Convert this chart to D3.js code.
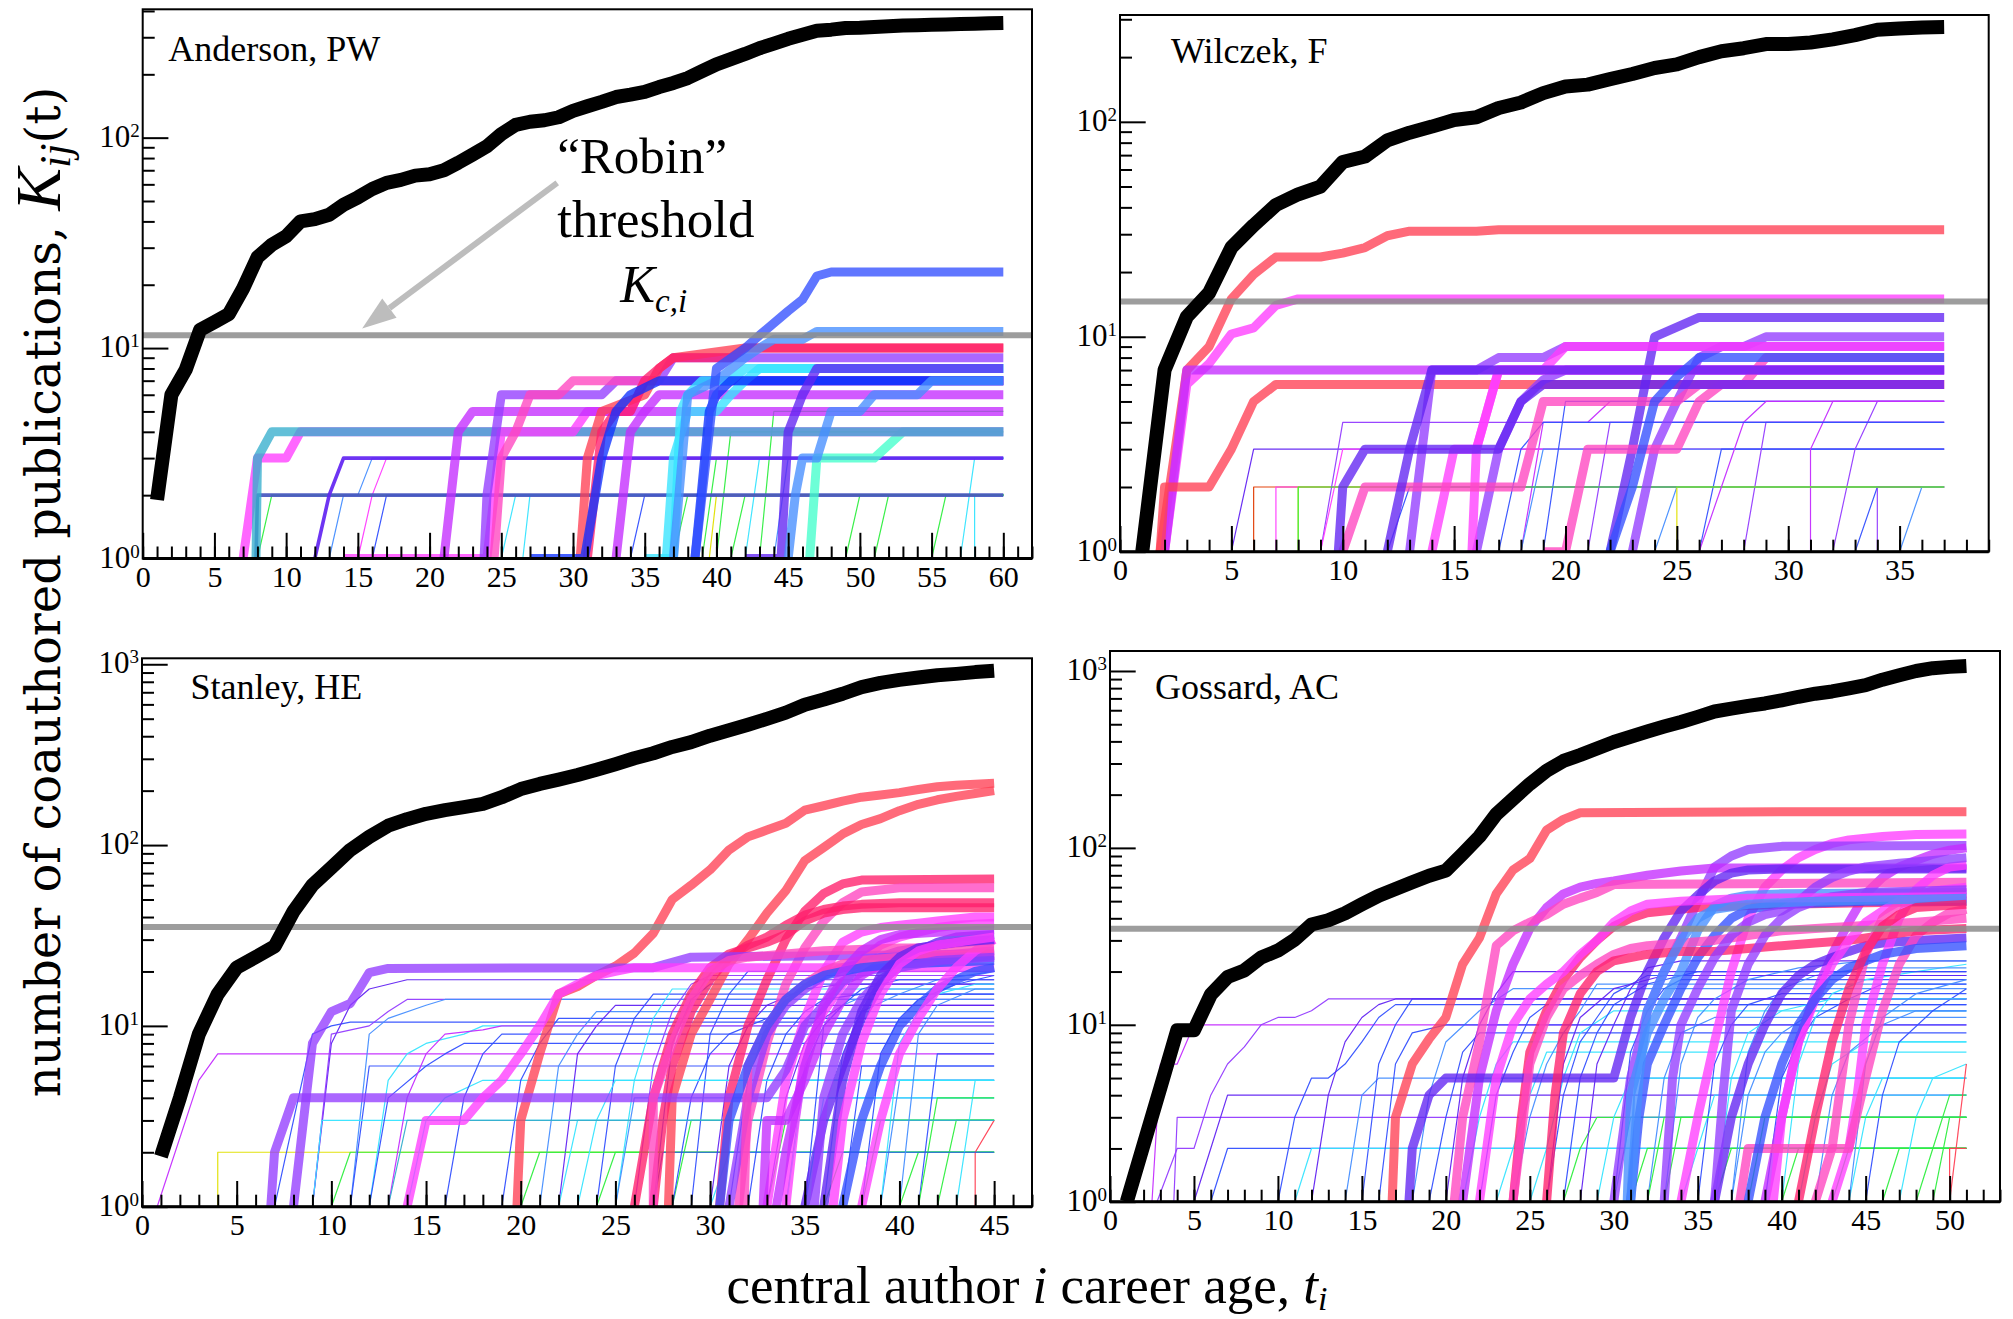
<!DOCTYPE html>
<html>
<head>
<meta charset="utf-8">
<script src="https://cdn.jsdelivr.net/npm/d3@7"></script>
<style>
  body { margin: 0; background: #fff; }
  svg { display: block; }
</style>
</head>
<body>
<svg id="chart" width="2013" height="1319"></svg>
<script>
// ---------- Data ----------
// Central author cumulative coauthored publications, one value per career year (t = 1, 2, ...)
const andersonCareer = [1.9, 6, 7.9, 12.2, 13.3, 14.5, 19.2, 27, 31, 34, 40, 41, 43, 48, 52, 57, 61, 63, 66, 67, 70, 76, 83, 91, 104, 115, 119, 121, 125, 134, 141, 148, 156, 160, 165, 174, 182, 192, 207, 223, 236, 250, 266, 280, 295, 308, 322, 326, 332, 333, 336, 338, 341, 342, 344, 345, 347, 348, 350, 351];
const wilczekCareer = [1, 7, 12.4, 16, 26, 33, 41, 46, 50, 65, 69, 82, 89, 95, 102, 105, 116, 123, 136, 146, 149, 158, 167, 178, 185, 200, 213, 220, 230, 230, 234, 242, 253, 268, 272, 275, 276];
const stanleyCareer = [1.9, 4, 9, 15, 21, 24, 27.5, 43, 60, 75, 94, 111, 128, 139, 149, 156, 162, 169, 184, 204, 218, 230, 244, 261, 280, 302, 322, 349, 371, 403, 431, 463, 499, 540, 597, 638, 687, 747, 789, 820, 845, 870, 885, 905, 920];
const gossardCareer = [1, 2.1, 4.4, 9.3, 9.3, 14.8, 18.6, 20.3, 24, 26.3, 30.3, 36.9, 39, 42.7, 48, 53.7, 58.5, 63.9, 69.6, 74.4, 92.5, 116, 155, 189, 230, 273, 310, 335, 365, 397, 425, 455, 485, 515, 550, 590, 612, 635, 655, 683, 715, 744, 766, 798, 832, 893, 946, 1000, 1037, 1055, 1067];

// "Robin" thresholds K_c,i
const thresholds = [11.5, 14.6, 35.2, 34.9];

// Panel titles
const authorNames = ['Anderson, PW', 'Wilczek, F', 'Stanley, HE', 'Gossard, AC'];

// Axis tick labels
const andersonXTicks = [0, 5, 10, 15, 20, 25, 30, 35, 40, 45, 50, 55, 60];
const wilczekXTicks = [0, 5, 10, 15, 20, 25, 30, 35];
const stanleyXTicks = [0, 5, 10, 15, 20, 25, 30, 35, 40, 45];
const gossardXTicks = [0, 5, 10, 15, 20, 25, 30, 35, 40, 45, 50];
const andersonYExponents = [0, 1, 2];
const wilczekYExponents = [0, 1, 2];
const stanleyYExponents = [0, 1, 2, 3];
const gossardYExponents = [0, 1, 2, 3];

// Coauthor trajectories K_ij(t): [group, tie strength, flat (t, K) pairs]
// Each count holds its last value through the end of the central author's record.
const andersonCoauthors = [
  ['g','W',[8,1, 9,2]], ['a','W',[13,1, 14,2, 15,2, 16,3]], ['m','W',[15,1, 16,2, 17,3]],
  ['b','W',[16,1, 17,2]], ['c','W',[25,1, 26,2]], ['c','W',[26.5,1, 27,2]],
  ['g','W',[37,1, 38,2]], ['g','W',[39,1, 40,3]], ['g','W',[40,1, 41,4]], ['g','W',[41,1, 42,2]],
  ['c','W',[42,1, 43,3]], ['g','W',[43,1, 44,5]], ['g','W',[51,1, 52,2]], ['g','W',[55,1, 56,2]],
  ['c','W',[57,1, 58,3]], ['c','W',[58,1, 58,2]], ['b','W',[34,1, 35,2]], ['y','W',[39.5,1, 40,2]],
  ['a','W',[44,1, 45,3]], ['g','W',[49,1, 50,2]],
  ['s','M',[7.9,1, 8,2]], ['i','M',[12,1, 13,2, 14,3]],
  ['q','S',[46.5,1, 47,3, 51,3, 53,4]],
  ['m','S',[7,1, 8,3, 10,3, 11,4]], ['t','S',[7.9,1, 8,3, 9,4]],
  ['m','S',[14,1, 24,1, 25,4, 30,4, 31,5, 34,5, 35,7]], ['f','S',[21,1, 22,4, 23,5]],
  ['v','S',[23.8,1, 24,2, 25,6, 32,6, 33,7, 36,7, 37,9]],
  ['p','S',[24.5,1, 25,3, 26,4, 27,6, 29,6, 30,7]],
  ['r','S',[30.5,1, 31,3, 32,5, 35,6, 36,8, 37,9, 42,10]],
  ['k','S',[31,1, 32,4, 33,5, 34,5, 35,7, 36,8, 37,9, 41,9, 42,10]],
  ['B','S',[27,1, 30.8,1, 32,3, 33,5, 34,6, 36,7]], ['f','S',[33,1, 33.5,2, 34,4, 35,5, 36,6]],
  ['c','S',[35,1, 37,1, 37.5,5, 38,6, 39,7, 41,7, 42,8]], ['c','S',[36.5,1, 37,3, 38,5, 40,5, 41,6, 42,7, 43,8]],
  ['B','S',[38.5,1, 39.5,5, 40,6, 41,7]],
  ['a','S',[37,1, 38,6, 40,7, 42,9, 43,10, 44,11, 46,11, 47,12]],
  ['b','S',[38.5,1, 40,8, 42,10, 43,11.5, 45,15, 46,17, 47,22, 48,23]],
  ['i','S',[42,1, 44.5,1, 45,4, 46,6, 47,8]],
  ['a','S',[45,1, 45.5,2, 46,3, 47,3, 48,5, 50,5, 51,6, 54,6, 55,7]]
];

const wilczekCoauthors = [
  ['i','W',[5,1, 6,3]], ['o','W',[6,1, 6,2]], ['m','W',[7,1, 7,2]], ['y','W',[8,1, 8,2]],
  ['v','W',[9,1, 10,4]], ['f','W',[18,1, 19,4, 21,4, 22,5]], ['m','W',[9,1, 10,3]],
  ['b','W',[12,1, 13,2]], ['a','W',[18,1, 19,3]], ['b','W',[19,1, 20,5]], ['v','W',[21,1, 22,4]],
  ['a','W',[24,1, 25,2]], ['b','W',[26,1, 27,3]], ['v','W',[28,1, 29,4]], ['f','W',[31,1, 31,3, 32,5]],
  ['v','W',[32,1, 33,3, 34,5]], ['b','W',[33,1, 34,2]], ['v','W',[34,1, 34,2]], ['a','W',[35,1, 36,2]],
  ['y','W',[25,1, 25,2]], ['g','W',[8,1, 8,2]], ['f','W',[26,1, 27,2, 28,4, 29,5]], ['b','W',[17,1, 18,3, 19,4]],
  ['r','S',[1.8,1, 3,7, 4,9, 5,15, 6,19.5, 7,23.5, 9,23.5, 10,24.5, 11,26, 12,29.5, 13,31, 16,31, 17,31.5]],
  ['m','S',[2,1, 3,6, 4,7.5, 5,10.3, 6,11, 7,14, 8,15]],
  ['f','S',[2,1, 3,7]],
  ['r','S',[1.8,1, 2,2, 4,2, 5,3, 6,5, 7,6]],
  ['v','S',[13,1, 14,7, 16,7, 17,8, 19,8, 20,9, 28,9, 29,10]],
  ['i','S',[22,1, 23,3, 24,10, 26,12.3]],
  ['v','S',[23,1, 24,3, 25,5, 26,8, 27,9]],
  ['v','S',[16,1, 17,3, 18,5, 19,6.3, 20,7]],
  ['p','S',[19,1, 20,1, 21,3, 25,3, 26,5, 27,6, 28,6, 29,8]],
  ['m','S',[15.8,1, 16,3, 17,7, 19,7, 20,9]],
  ['m','S',[14,1, 15,3, 16,3, 17,7]],
  ['p','S',[10,1, 11,2, 18,2, 19,5, 25,5, 26,6]],
  ['i','S',[9.8,1, 10,2, 11,3, 17,3, 18,5, 19,6]],
  ['i','S',[12,1, 13,3, 14,7]],
  ['b','S',[22,1, 23,2, 24,5, 25,6.5, 26,8]]
];

const stanleyCoauthors = [
  ['f','W',[0.8,1, 3,5, 4,7]], ['y','W',[4,1, 4,2]], ['g','W',[10,1, 11,2]],
  ['b','W',[7,1, 8,3, 9,9, 10,10, 11,10.5]], ['i','W',[9,1, 10,8, 11,13, 12,16, 14,18]],
  ['v','W',[9,1, 10,9, 12,10, 13,12, 14,14]], ['c','W',[12,1, 13,5, 14,7, 15,8, 17,9, 18,10]],
  ['a','W',[11,1, 12,9, 13,11, 15,13, 16,14]], ['b','W',[11,1, 12,6]], ['c','W',[9,1, 9.5,3]],
  ['b','W',[12,1, 13,4, 15,6, 16,7, 17,8]], ['c','W',[14,1, 15,3, 16,4, 18,5]],
  ['b','W',[16,1, 17,4, 18,7, 19,9]], ['b','W',[19,1, 20,5, 21,8, 22,11]],
  ['a','W',[21,1, 22,6, 23,9, 24,12]], ['i','W',[22,1, 23,7, 24,10, 25,13]],
  ['b','W',[24,1, 25,6, 26,11, 27,15]], ['c','W',[25,1, 26,5, 27,11, 28,16]],
  ['b','W',[27,1, 28,8, 29,14, 30,17]], ['v','W',[26,1, 27,6, 28,12, 29,17, 30,19]],
  ['b','W',[29,1, 30,9, 31,15, 32,20]], ['g','W',[20,1, 21,2]], ['c','W',[22,1, 23,3]],
  ['g','W',[24,1, 25,2]], ['a','W',[25,1, 26,4]], ['g','W',[28,1, 29,3]], ['c','W',[30,1, 31,2]],
  ['b','W',[31,1, 32,5]], ['g','W',[33,1, 34,3]], ['c','W',[35,1, 36,4]], ['g','W',[36,1, 37,2]],
  ['b','W',[37,1, 38,6]], ['g','W',[38,1, 39,3]], ['a','W',[39,1, 40,5]], ['g','W',[40,1, 41,2]],
  ['b','W',[41,1, 42,7]], ['g','W',[42,1, 43,3]], ['c','W',[43,1, 44,5]], ['r','W',[44,1, 44,2, 45,3]],
  ['g','W',[41,1, 42,4]], ['b','W',[32,1, 33,5, 34,9, 35,12, 36,14, 38,15]],
  ['a','W',[34,1, 35,6, 36,10, 37,13, 39,16]], ['i','W',[30,1, 31,6, 32,10, 33,13, 35,16, 37,17]],
  ['b','W',[28,1, 29,4, 30,7, 31,9, 33,11]], ['c','W',[23,1, 24,3, 25,5]],
  ['f','W',[13,1, 14,4, 15,7, 16,9, 18,9.5, 19,10]], ['i','W',[33,1, 34,4, 35,8, 36,11, 37,13]],
  ['b','W',[38,1, 39,7, 40,11, 41,14, 43,17, 45,19]], ['a','W',[36,1, 37,7, 38,12, 40,15, 42,18, 45,20]],
  ['c','W',[39,1, 40,8, 41,12, 42,15, 44,17]], ['t','W',[13,1, 14,3]], ['b','W',[27,1, 27.5,2]],
  ['c','W',[34,1, 35,5]], ['b','W',[35,1, 36,10, 37,13, 38,16, 40,18]], ['a','W',[40,1, 41,9, 42,13, 44,16]],
  ['r','S',[19.8,1, 20,3, 21,7, 22,15, 23,16.5, 24,19, 25,21.4, 26,25.3, 27,32.5, 28,50, 29,60, 30,73, 31,94, 32,111, 33,121, 34,132, 35,156, 36,165, 37,175, 38,184, 39,189, 40,195, 41,203, 42,210, 43,214, 44,217, 45,220]],
  ['r','S',[27.8,1, 28,4, 29,9, 30,14, 31,22, 32,30, 33,42, 34,56, 35,82, 36,97, 37,115, 38,130, 39,140, 40,155, 41,168, 42,178, 43,186, 44,193, 45,200]],
  ['k','S',[30.5,1, 31,4, 32,10, 33,18, 34,30, 35,43, 36,54, 37,61, 38,64, 45,65]],
  ['p','S',[31.5,1, 32,3, 33,8, 34,17, 35,27, 36,38, 37,48, 38,55, 40,58]],
  ['k','S',[27,1, 27.5,3, 28,6, 29,12, 30,18, 31,24, 32,28, 33,31, 34,36, 35,41, 36,44, 37,46, 38,47, 40,48]],
  ['k','S',[26,1, 27,4, 28,9, 29,15, 30,21, 31,25, 32,27, 33,29, 34,32, 35,38, 36,42, 37,44, 38,45]],
  ['m','S',[33,1, 34,5, 35,11, 36,20, 37,29, 38,33, 39,35, 40,36, 41,37, 42,38, 43,39, 44,40]],
  ['m','S',[34,1, 34.5,3, 35,7, 36,12, 37,17, 38,23, 39,28, 40,31, 41,33, 42,35, 43,36, 45,37]],
  ['i','S',[35,1, 36,3, 37,6, 38,11, 39,17, 40,22, 41,26, 42,29, 43,31, 45,32]],
  ['v','S',[31,1, 32,4, 33,9, 34,13, 35,16, 36,19, 37,21, 38,22, 39,24, 40,26, 42,28, 45,30]],
  ['v','S',[6.8,1, 7,2, 8,4, 33,4, 34,5.7, 35,10, 36,13, 37,17.6, 38,19.7, 40,22, 45,24.5]],
  ['v','S',[8,1, 9,8, 10,12, 11,13.3, 12,19.7, 13,20.8, 27,21, 29,24, 45,25]],
  ['m','S',[14,1, 15,3, 17,3, 18,4, 19,5, 20,7, 21,10, 22,15, 23,17, 24,19, 25,20, 26,21]],
  ['f','S',[32.8,1, 33,3, 34,3, 35,5, 36,9, 37,14, 38,19, 39,22, 41,24, 45,26]],
  ['p','S',[31.8,1, 32,6, 33,10, 34,14, 35,17, 36,20, 37,22, 38,23, 40,24, 45,25]],
  ['b','S',[30.5,1, 31,3, 32,6, 33,10, 34,14, 35,17, 36,19, 37,20, 38,21, 40,22, 45,23]],
  ['v','S',[35.5,1, 36,4, 37,9, 38,14, 39,18, 40,21, 42,23, 45,24]],
  ['b','S',[37,1, 38,3, 39,6, 40,10, 41,13, 42,16, 43,18, 44,20, 45,21]],
  ['m','S',[38,1, 39,3, 40,7, 41,11, 42,16, 43,21, 44,26, 45,30]],
  ['p','S',[27,1, 27,4, 28,8, 29,14, 30,20, 31,23, 32,24, 34,25, 36,26, 40,27]],
  ['f','S',[33.5,1, 34,2, 35,6, 36,13, 37,20, 38,26, 39,30, 40,32, 42,33, 45,34]],
  ['i','S',[36,1, 37,5, 38,12, 39,19, 40,24, 41,27, 43,29, 45,30]],
  ['m','S',[36.5,1, 37,3, 38,8, 39,15, 40,22, 41,26, 42,28, 44,30, 45,31]]
];

const gossardCoauthors = [
  ['f','W',[2.5,1, 3,6, 4,6, 5,10]], ['v','W',[2.8,1, 4,2, 5,2, 6,4, 7,6, 8,7.5, 9,10, 10,11, 11,11, 12,12, 13,14]],
  ['v','W',[3.8,1, 4,3]], ['i','W',[5,1, 6,2, 7,4]], ['b','W',[6,1, 7,2]],
  ['b','W',[10,1, 11,3, 12,5, 13,5, 14,6, 15,8, 16,11, 17,13, 18,13]], ['a','W',[14,1, 15,4, 16,5]],
  ['b','W',[15,1, 16,6, 17,10, 18,14]], ['c','W',[11,1, 12,2]], ['a','W',[18,1, 19,4, 20,8, 22,12, 24,16]],
  ['b','W',[19,1, 20,3, 21,7, 22,9]], ['i','W',[20,1, 21,5, 22,10, 23,15, 24,20]], ['c','W',[21,1, 22,3, 23,6, 24,8]],
  ['b','W',[22,1, 23,4, 24,7, 25,11, 26,13]], ['c','W',[23,1, 24,2, 25,4, 26,7]],
  ['a','W',[24,1, 25,3, 26,6, 27,9, 28,12, 29,17]], ['c','W',[25,1, 26,2, 27,5, 28,9, 30,12]],
  ['b','W',[26,1, 27,4, 28,8, 29,11, 30,15, 32,19]], ['g','W',[27,1, 28,2, 29,3]],
  ['i','W',[28,1, 29,6, 30,10, 31,16, 32,21, 34,23]], ['c','W',[29,1, 30,3, 31,5]],
  ['b','W',[30,1, 31,7, 32,12, 33,16, 34,18]], ['g','W',[31,1, 32,2]], ['a','W',[32,1, 33,5, 34,9, 36,11]],
  ['g','W',[33,1, 34,3]], ['c','W',[34,1, 35,2, 36,4]], ['b','W',[35,1, 36,6, 37,10, 38,13, 40,15]],
  ['g','W',[36,1, 37,2]], ['a','W',[37,1, 38,4, 39,7, 40,9, 42,12]], ['g','W',[38,1, 39,3]],
  ['b','W',[39,1, 40,5, 41,8, 42,11, 44,14, 46,17]], ['g','W',[40,1, 41,2]], ['c','W',[41,1, 42,3, 43,6, 45,8]],
  ['a','W',[42,1, 43,4, 44,7, 46,10, 48,12]], ['g','W',[43,1, 44,2]], ['c','W',[44,1, 45,3, 46,5]],
  ['b','W',[45,1, 46,4, 47,8, 49,12, 51,16]], ['g','W',[46,1, 47,2]], ['c','W',[47,1, 48,3, 49,5, 51,6]],
  ['g','W',[48,1, 49,2, 50,4]], ['g','W',[49,1, 50,3]], ['r','W',[50,1, 51,6]], ['r','W',[50,1, 50,2, 51,2]],
  ['c','W',[40,1, 41,6, 42,11, 43,15, 45,18, 48,20, 51,22]], ['a','W',[37,1, 38,7, 39,12, 40,16, 42,19, 45,21]],
  ['i','W',[12,1, 13,4, 14,8, 15,11, 16,13, 17,14]], ['b','W',[16,1, 17,6, 18,9, 20,10]],
  ['t','W',[30,1, 31,3]], ['g','W',[32,1, 33,3]], ['b','W',[27,1, 28,5, 29,9, 30,13, 32,17, 35,20]],
  ['a','W',[33,1, 34,6, 35,11, 36,14, 38,18, 41,21, 45,23]], ['c','W',[36,1, 37,5, 38,9, 40,12, 43,14]],
  ['i','W',[26,1, 27,6, 28,11, 30,16, 33,19]], ['a','W',[44,1, 45,6, 46,11, 48,15, 51,18]],
  ['r','S',[16.8,1, 17,3, 18,6, 19,8.3, 20,11, 21,22, 22,31, 23,55, 24,75, 25,87, 26,126, 27,145, 28,158, 40,160]],
  ['m','S',[34,1, 35,3, 36,8, 37,20, 38,40, 39,60, 40,75, 41,88, 42,98, 43,106, 44,111, 46,116, 48,119, 51,120]],
  ['v','S',[30,1, 31,5, 32,12, 33,20, 34,31, 35,50, 36,78, 37,90, 38,98, 40,102, 51,103]],
  ['f','S',[39,1, 40,3, 41,8, 42,15, 43,25, 44,38, 45,55, 46,68, 47,78, 48,85, 49,92, 50,97, 51,100]],
  ['f','S',[21,1, 22,5, 23,12, 24,22, 25,35, 26,46, 27,55, 28,60, 29,63, 30,65, 32,70, 34,74, 36,77]],
  ['p','S',[20.5,1, 21,3, 22,8, 23,28, 24,34, 25,38, 26,42, 27,48, 28,52, 29,56, 30,62, 51,64]],
  ['k','S',[24,1, 24.5,3, 25,7, 26,12, 27,18, 28,24, 29,30, 30,36, 31,40, 32,43, 35,46, 40,48, 45,49, 51,50]],
  ['a','S',[30.8,1, 31,4, 32,9, 33,14, 34,20, 35,34, 36,47, 37,52, 38,54, 40,55, 51,56]],
  ['i','S',[17.8,1, 18,2, 19,4, 20,5, 30,5, 31,11, 32,20, 33,31, 34,44, 35,54, 36,65, 37,72, 38,75, 40,76]],
  ['b','S',[31,1, 31.5,3, 32,6, 33,10, 34,16, 35,24, 36,32, 37,40, 38,45, 40,48, 45,50]],
  ['i','S',[36,1, 37,3, 38,6, 39,10, 40,15, 41,19, 42,22, 43,24, 44,26, 45,28, 46,29, 48,30, 51,31]],
  ['m','S',[43,1, 44,2, 44.5,4, 45,10, 46,22, 47,40, 48,58, 49,70, 50,78, 51,80]],
  ['p','S',[42,1, 43,2, 44,2, 45,5, 46,12, 47,22, 48,32, 49,38, 50,43, 51,45]],
  ['p','S',[24,1, 25,6, 26,11, 27,16, 28,19, 29,22, 30,25, 31,27, 32,28, 34,29, 36,30, 38,32, 40,34, 42,35, 44,36, 46,37, 48,38, 51,40]],
  ['k','S',[26,1, 26.5,4, 27,9, 28,15, 29,20, 30,23, 32,25, 34,26, 36,26, 38,27, 40,28, 42,29, 44,30, 46,32, 48,34, 51,35]],
  ['v','S',[33,1, 33.5,5, 34,10, 35,16, 36,24, 37,32, 38,38, 39,42, 40,44, 41,50, 42,60, 43,68, 44,74, 45,78, 47,82, 51,88]],
  ['m','S',[39.5,1, 40,3, 41,8, 42,14, 43,22, 44,30, 45,38, 46,44, 47,50, 48,54, 49,57, 51,60]],
  ['p','S',[37.5,1, 38,2, 43,2, 44,10, 45,25, 46,40, 47,48, 48,52, 51,55]],
  ['b','S',[38,1, 39,3, 40,6, 41,10, 42,14, 43,18, 44,21, 45,23, 46,25, 48,27, 51,28]],
  ['v','S',[36,1, 36.5,4, 37,12, 38,22, 39,32, 40,40, 41,46, 42,50, 43,53, 45,56, 51,58]],
  ['m','S',[22,1, 23,5, 24,10, 25,14, 26,17, 27,20, 28,25, 29,30, 30,38, 31,44, 32,48, 34,50, 38,52, 51,53]],
  ['a','S',[31,1, 31.5,5, 32,12, 33,20, 34,30, 35,40, 36,45, 38,48, 42,50, 51,52]],
  ['k','S',[41,1, 42,3, 43,8, 44,16, 45,26, 46,36, 47,42, 48,46, 51,48]]
];

// ---------- Styles ----------
const groupColor = {
  r: '#ff4054', k: '#ff1f6c', p: '#ff45c0', m: '#ff3cff', f: '#c42cff', v: '#933cff',
  i: '#6224f2', b: '#3350ff', B: '#0e32ff', a: '#468eff', c: '#36e4ff', t: '#36aecd',
  q: '#44ffcc', g: '#2fee40', y: '#e0e000', s: '#4756c0', o: '#e03a00'
};
const tieWidth = { S: 9, M: 3.6, W: 1.2 };
const tieOpacity = { S: 0.78, M: 0.92, W: 0.95 };
const tieOrder = { W: 0, M: 1, S: 2 };
const serif = "'Liberation Serif', 'Times New Roman', serif";

const panels = [
  { name: authorNames[0], career: andersonCareer, coauthors: andersonCoauthors, threshold: thresholds[0],
    xTicks: andersonXTicks, yExp: andersonYExponents, xMax: 62, yMaxExp: 2.61, lastYear: 60,
    box: { left: 142.7, right: 1032, top: 9.3, bottom: 558.5 }, nameAt: [25.5, 52] },
  { name: authorNames[1], career: wilczekCareer, coauthors: wilczekCoauthors, threshold: thresholds[1],
    xTicks: wilczekXTicks, yExp: wilczekYExponents, xMax: 39, yMaxExp: 2.497, lastYear: 37,
    box: { left: 1120, right: 1988.7, top: 15, bottom: 551.7 }, nameAt: [51, 48] },
  { name: authorNames[2], career: stanleyCareer, coauthors: stanleyCoauthors, threshold: thresholds[2],
    xTicks: stanleyXTicks, yExp: stanleyYExponents, xMax: 47, yMaxExp: 3.033, lastYear: 45,
    box: { left: 142, right: 1032, top: 658.3, bottom: 1206.7 }, nameAt: [48.5, 41] },
  { name: authorNames[3], career: gossardCareer, coauthors: gossardCoauthors, threshold: thresholds[3],
    xTicks: gossardXTicks, yExp: gossardYExponents, xMax: 53, yMaxExp: 3.113, lastYear: 51,
    box: { left: 1110, right: 2000, top: 651, bottom: 1201.7 }, nameAt: [45, 48] }
];

const svg = d3.select('#chart');
const defs = svg.append('defs');

function toPoints(flat, lastYear) {
  const pts = [];
  for (let i = 0; i < flat.length; i += 2) pts.push([flat[i], flat[i + 1]]);
  const last = pts[pts.length - 1];
  if (last[0] < lastYear) pts.push([lastYear, last[1]]);
  return pts;
}

panels.forEach((P, pi) => {
  const b = P.box;
  const x = d3.scaleLinear().domain([0, P.xMax]).range([b.left, b.right]);
  const y = d3.scaleLog().domain([1, Math.pow(10, P.yMaxExp)]).range([b.bottom, b.top]);
  const g = svg.append('g');

  const clipId = 'clip' + pi;
  defs.append('clipPath').attr('id', clipId).append('rect')
    .attr('x', b.left).attr('y', b.top).attr('width', b.right - b.left).attr('height', b.bottom - b.top);

  const plot = g.append('g').attr('clip-path', `url(#${clipId})`);
  const line = d3.line().x(d => x(d[0])).y(d => y(d[1])).curve(d3.curveLinear);

  // coauthor trajectories, weak ties underneath
  const rows = P.coauthors.map((c, idx) => ({ grp: c[0], tie: c[1], pts: toPoints(c[2], P.lastYear), idx }))
    .sort((a, b2) => tieOrder[a.tie] - tieOrder[b2.tie] || a.idx - b2.idx);
  plot.selectAll('path.coauthor').data(rows).join('path')
    .attr('class', 'coauthor')
    .attr('d', d => line(d.pts))
    .attr('fill', 'none')
    .attr('stroke', d => groupColor[d.grp])
    .attr('stroke-width', d => tieWidth[d.tie])
    .attr('stroke-opacity', d => tieOpacity[d.tie])
    .attr('stroke-linejoin', 'round');

  // threshold K_c,i
  plot.append('line')
    .attr('x1', x(0)).attr('x2', x(P.xMax))
    .attr('y1', y(P.threshold)).attr('y2', y(P.threshold))
    .attr('stroke', '#8c8c8c').attr('stroke-opacity', 0.85).attr('stroke-width', 6);

  // central author total
  plot.append('path')
    .datum(P.career.map((v, i) => [i + 1, v]))
    .attr('d', line)
    .attr('fill', 'none').attr('stroke', '#000').attr('stroke-width', 14)
    .attr('stroke-linejoin', 'round');

  // axes: inward ticks, minor every year / every mantissa
  const xMinor = d3.axisBottom(x).tickValues(d3.range(0, P.xMax + 0.001, 1)).tickSize(-12).tickSizeOuter(0).tickFormat('');
  const xMajor = d3.axisBottom(x).tickValues(P.xTicks).tickSize(-25.7).tickSizeOuter(0).tickPadding(7).tickFormat(d3.format('d'));
  const gxm = g.append('g').attr('transform', `translate(0,${b.bottom})`).call(xMinor);
  const gxM = g.append('g').attr('transform', `translate(0,${b.bottom})`).call(xMajor);

  const yMax = Math.pow(10, P.yMaxExp);
  const minorVals = [];
  for (let e = 0; e <= Math.ceil(P.yMaxExp); e++) for (let m = 2; m <= 9; m++) {
    const v = m * Math.pow(10, e); if (v <= yMax) minorVals.push(v);
  }
  const yMinor = d3.axisLeft(y).tickValues(minorVals).tickSize(-12).tickSizeOuter(0).tickFormat('');
  const yMajor = d3.axisLeft(y).tickValues(P.yExp.map(e => Math.pow(10, e))).tickSize(-25.7).tickSizeOuter(0).tickFormat('');
  const gym = g.append('g').attr('transform', `translate(${b.left},0)`).call(yMinor);
  const gyM = g.append('g').attr('transform', `translate(${b.left},0)`).call(yMajor);

  [gxm, gxM, gym, gyM].forEach(a => {
    a.attr('font-family', null);
    a.select('.domain').remove();
    a.selectAll('.tick line').attr('stroke', '#000').attr('stroke-width', 2);
  });
  gxM.selectAll('.tick text').attr('fill', '#000')
    .style('font-family', serif).style('font-size', '30px');

  // decade labels 10^n
  const yl = g.append('g');
  P.yExp.forEach(e => {
    const t = yl.append('text')
      .attr('x', b.left - 3).attr('y', y(Math.pow(10, e)) + 9)
      .attr('text-anchor', 'end')
      .style('font-family', serif).style('font-size', '31px');
    t.append('tspan').text('10');
    t.append('tspan').attr('dy', -10).style('font-size', '19px').text(String(e));
  });

  // frame
  g.append('rect').attr('x', b.left).attr('y', b.top)
    .attr('width', b.right - b.left).attr('height', b.bottom - b.top)
    .attr('fill', 'none').attr('stroke', '#000').attr('stroke-width', 2);
  g.append('line').attr('x1', b.left).attr('x2', b.right).attr('y1', b.bottom).attr('y2', b.bottom)
    .attr('stroke', '#000').attr('stroke-width', 3);

  // author name
  g.append('text').attr('x', b.left + P.nameAt[0]).attr('y', b.top + P.nameAt[1])
    .style('font-family', serif).style('font-size', '36px').text(P.name);

  // "Robin" threshold annotation in the first panel
  if (pi === 0) {
    const note = g.append('g');
    const x0 = x(28.9), y0 = y(61), x1 = x(15.3), y1 = y(12.4);
    const dx = x1 - x0, dy = y1 - y0, len = Math.hypot(dx, dy);
    const ux = dx / len, uy = dy / len, head = 34, half = 12;
    const bx = x1 - ux * head, by = y1 - uy * head;
    note.append('line').attr('x1', x0).attr('y1', y0).attr('x2', bx).attr('y2', by)
      .attr('stroke', '#bdbdbd').attr('stroke-width', 6);
    note.append('path')
      .attr('d', `M${x1},${y1}L${bx - uy * half},${by + ux * half}L${bx + uy * half},${by - ux * half}Z`)
      .attr('fill', '#bdbdbd');
    note.append('text').attr('x', x(28.9)).attr('y', y(68))
      .style('font-family', serif).style('font-size', '51px').text('“Robin”');
    note.append('text').attr('x', x(28.9)).attr('y', y(33.6))
      .style('font-family', serif).style('font-size', '53px').text('threshold');
    const k = note.append('text').attr('x', x(33.3)).attr('y', y(16.6))
      .style('font-family', serif).style('font-size', '52px').style('font-style', 'italic');
    k.append('tspan').text('K');
    k.append('tspan').attr('dy', 10).style('font-size', '33px').text('c,i');
  }
});

// shared axis titles
const yt = svg.append('text')
  .attr('transform', 'translate(60,592) rotate(-90)')
  .attr('text-anchor', 'middle')
  .style('font-family', "'DejaVu Serif', serif").style('font-size', '48px');
yt.append('tspan').text('number of coauthored publications, ');
yt.append('tspan').style('font-family', serif).style('font-style', 'italic').style('font-size', '64px').text('K');
yt.append('tspan').attr('dy', 10).style('font-family', serif).style('font-style', 'italic').style('font-size', '44px').text('ij');
yt.append('tspan').attr('dy', -10).style('font-size', '48px').text('(t)');

const xt = svg.append('text')
  .attr('x', 1027).attr('y', 1303)
  .attr('text-anchor', 'middle')
  .style('font-family', serif).style('font-size', '53px');
xt.append('tspan').text('central author ');
xt.append('tspan').style('font-style', 'italic').text('i');
xt.append('tspan').text(' career age, ');
xt.append('tspan').style('font-style', 'italic').text('t');
xt.append('tspan').attr('dy', 7).style('font-style', 'italic').style('font-size', '34px').text('i');
</script>
</body>
</html>
